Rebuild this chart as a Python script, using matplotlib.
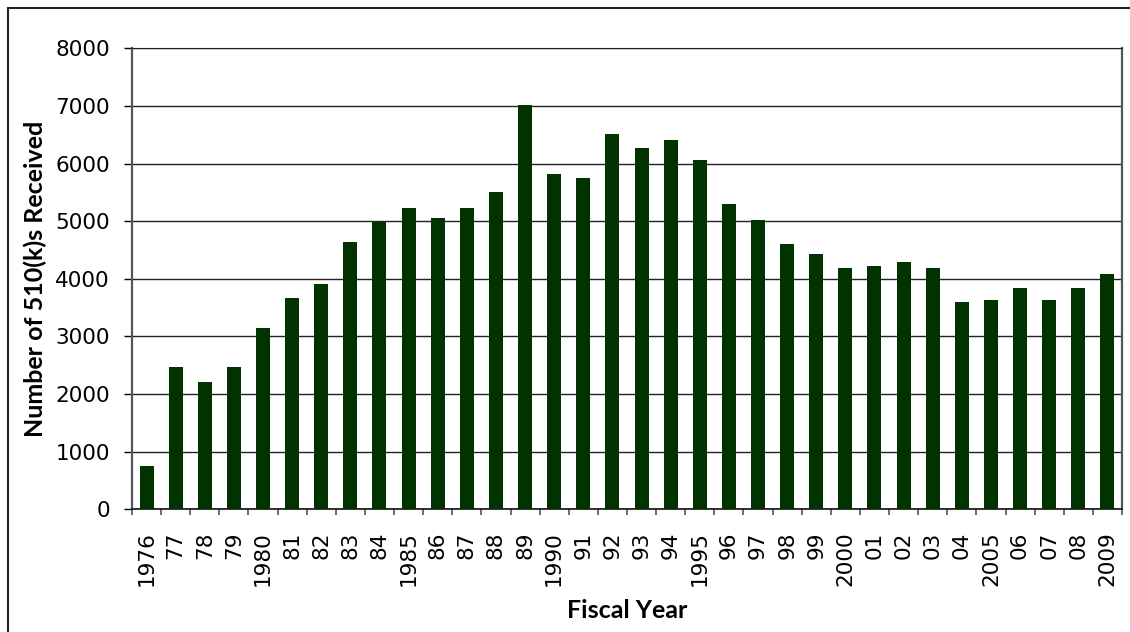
import matplotlib.pyplot as plt
from matplotlib.patches import Rectangle

labels = ['1976', '77', '78', '79', '1980', '81', '82', '83', '84', '1985',
          '86', '87', '88', '89', '1990', '91', '92', '93', '94', '1995',
          '96', '97', '98', '99', '2000', '01', '02', '03', '04', '2005',
          '06', '07', '08', '2009']
received = [752, 2470, 2210, 2470, 3148, 3668, 3911, 4640, 4993, 5231,
            5057, 5231, 5509, 7025, 5821, 5750, 6515, 6272, 6411, 6064,
            5300, 5023, 4606, 4432, 4189, 4224, 4293, 4189, 3599, 3634,
            3842, 3634, 3842, 4085]

fig = plt.figure(figsize=(11.3, 6.32), dpi=100)
ax = fig.add_axes([0.1168, 0.1942, 0.8761, 0.7291])

x = list(range(len(labels)))
ax.bar(x, received, width=0.48, color='#003300', zorder=3)

ax.set_xlim(-0.5, len(labels) - 0.5)
ax.set_ylim(0, 8000)
ax.set_yticks(range(0, 8001, 1000))
ax.yaxis.grid(True, color='#222222', linewidth=1.0, zorder=0)

ax.set_xticks(x)
ax.set_xticklabels(labels, rotation=90)
ax.set_xticks([i - 0.5 for i in range(len(labels) + 1)], minor=True)
ax.tick_params(axis='x', which='major', length=0, pad=16, labelsize=15.5)
ax.tick_params(axis='x', which='minor', length=4.3, width=1.2, color='#555555', direction='out')
ax.tick_params(axis='y', length=5.8, width=1.0, labelsize=15.5, direction='out', pad=10)

for side in ['left', 'right']:
    ax.spines[side].set_color('#555555')
    ax.spines[side].set_linewidth(1.6)
ax.spines['bottom'].set_color('#111111')
ax.spines['bottom'].set_linewidth(1.2)
ax.spines['top'].set_color('#222222')

ax.set_xlabel('Fiscal Year', fontsize=18, fontweight='bold', family='Lato')
ax.set_ylabel('Number of 510(k)s Received', fontsize=18, fontweight='bold', family='Lato')
ax.xaxis.set_label_coords(0.5, -0.195)
ax.yaxis.set_label_coords(-0.086, 0.5)

# outer chart frame (cut off at right/bottom as in the original)
fig.patches.append(Rectangle((8 / 1130, -0.1), 1.2, 1 - 8 / 632 + 0.1,
                             transform=fig.transFigure, fill=False,
                             edgecolor='#222222', linewidth=1.5))

fig.savefig('out.png', dpi=100)
